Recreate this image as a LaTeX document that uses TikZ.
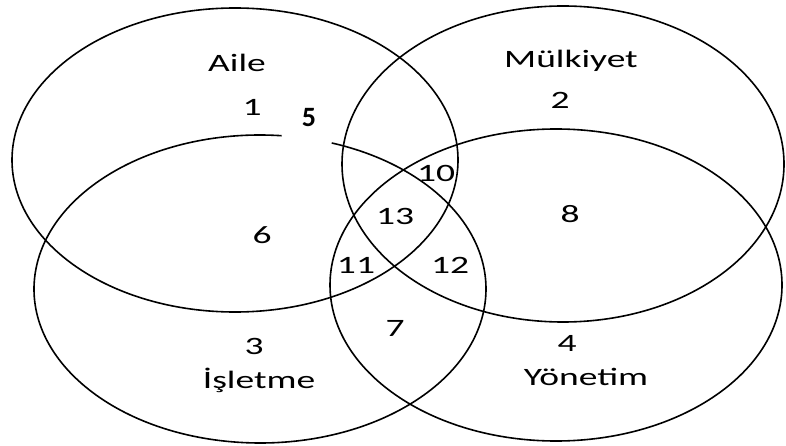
\documentclass[tikz,border=0pt]{standalone}
\usepackage{fontspec}
\setmainfont{Carlito}
\usepackage{tikz}

\newcommand{\wide}[1]{\scalebox{1.5}[1]{#1}}

\begin{document}
\begin{tikzpicture}[x=1pt, y=1pt, lbl/.style={font=\fontsize{25}{25}\selectfont, inner sep=0pt}]
\useasboundingbox (0,0) rectangle (786,-446);
\draw[line width=1.6pt] (235,-160) ellipse [x radius=223, y radius=152];
\draw[line width=1.6pt] (563,-164) ellipse [x radius=221, y radius=158];
\draw[line width=1.6pt] (556,-285) ellipse [x radius=226, y radius=156];
\draw[line width=1.6pt] (260,-289) ++(84.5:226 and 154) arc[start angle=84.5, end angle=431.5, x radius=226, y radius=154];
\node[lbl] (aile) at (237,-63) {\wide{Aile}};
\node[lbl] (mulk) at (571,-61) {\wide{Mülkiyet}};
\node[lbl] (isl) at (259,-380) {\wide{İşletme}};
\node[lbl] (yon) at (586,-377) {\wide{Yönetim}};
\node[lbl] (n1) at (252,-107) {\wide{1}};
\node[lbl] (n2) at (560,-100) {\wide{2}};
\node[lbl] (n3) at (254,-346) {\wide{3}};
\node[lbl] (n4) at (567,-343) {\wide{4}};
\node[lbl, font=\fontsize{28}{28}\selectfont\bfseries] (n5) at (309,-118) {5};
\node[lbl] (n6) at (262,-235) {\wide{6}};
\node[lbl] (n7) at (395,-328) {\wide{7}};
\node[lbl] (n8) at (570,-214) {\wide{8}};
\node[lbl] (n10) at (436,-173) {\wide{10}};
\node[lbl] (n11) at (356,-265) {\wide{11}};
\node[lbl] (n12) at (450,-265) {\wide{12}};
\node[lbl] (n13) at (395,-216) {\wide{13}};
\end{tikzpicture}
\end{document}
